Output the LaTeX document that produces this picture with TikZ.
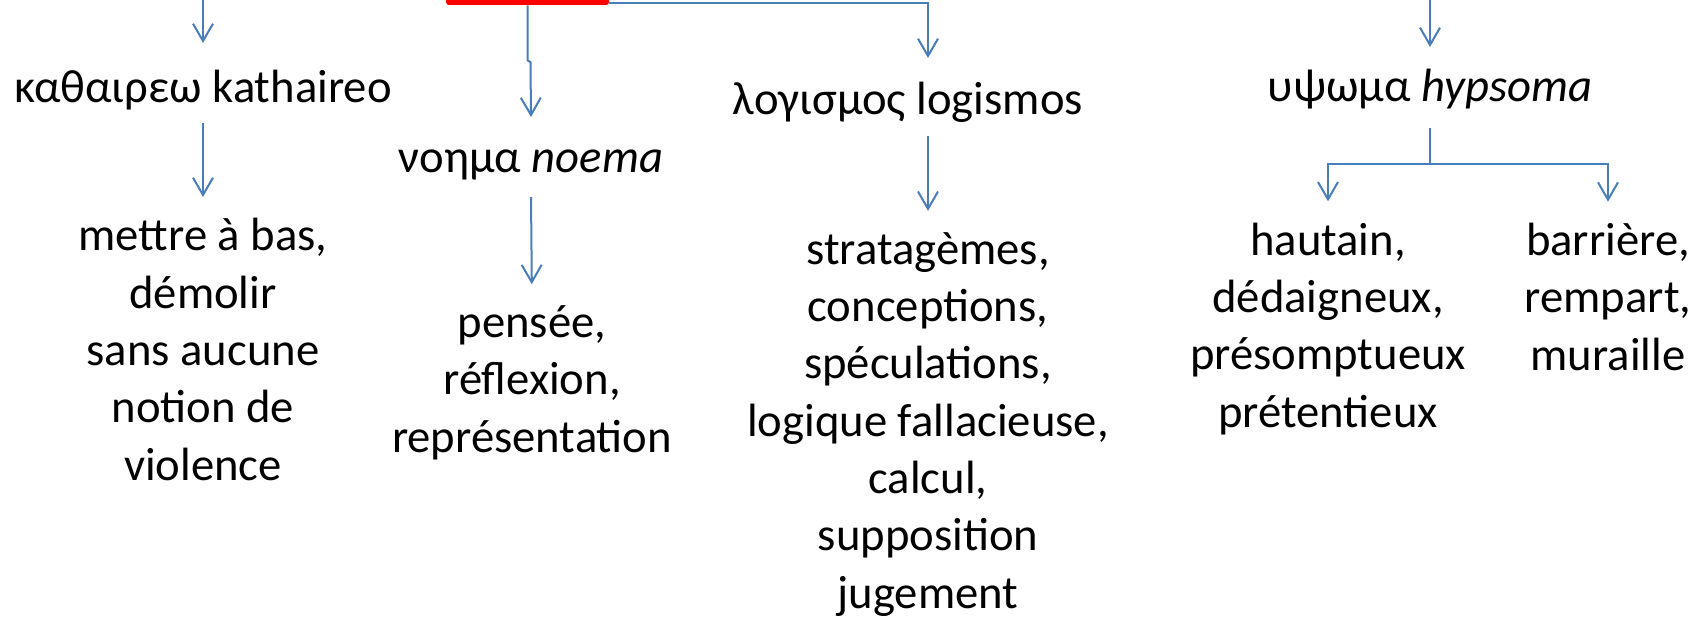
\documentclass[tikz,border=0pt]{standalone}
\usepackage{fontspec}
\setmainfont{Carlito}
\usepackage{tikz}
\usetikzlibrary{arrows.meta,calc}
\definecolor{arrowblue}{RGB}{74,126,187}

\begin{document}
\begin{tikzpicture}[x=0.75pt,y=0.75pt,yscale=-1,xscale=1,
    conn/.style={color=arrowblue, line width=1.5pt, -{Straight Barb[length=13pt,width=15pt]}},
    plain/.style={color=arrowblue, line width=1.5pt},
    word/.style={anchor=base, inner sep=0.75pt, align=center, font=\fontsize{35}{43}\selectfont}]
        %set diagram left start at 0, and has height of 620
        \useasboundingbox (0,0) rectangle (1702,620);

        %Shape: Rectangle [red box, cut at the top]
        \draw (527.5,-9) node [fill=red, rounded corners=2pt, minimum width=122pt, minimum height=21pt, inner sep=0pt] (root) {};
        \coordinate (kathtop) at (203,-20);
        \coordinate (hypstop) at (1430,-20);

        % Text Node (anchor base = last line)
        \draw (203,103) node [word] (kath) {καθαιρεω kathaireo};
        % Text Node
        \draw (203,480) node [word] (mettre) {mettre à bas,\\démolir\\sans aucune\\notion de\\violence};
        % Text Node
        \draw (531,173) node [word] (noema) {νοημα \textit{noema}};
        % Text Node
        \draw (532,452) node [word] (pensee) {pensée,\\réflexion,\\représentation};
        % Text Node
        \draw (908,115) node [word] (logism) {λογισμος logismos};
        % Text Node
        \draw (928,608) node [word] (strat) {stratagèmes,\\conceptions,\\spéculations,\\logique fallacieuse,\\calcul,\\supposition\\jugement};
        % Text Node
        \draw (1430,102) node [word] (hyps) {υψωμα \textit{hypsoma}};
        % Text Node
        \draw (1328,427) node [word] (haut) {hautain,\\dédaigneux,\\présomptueux\\prétentieux};
        % Text Node
        \draw (1608,370) node [word] (barr) {barrière,\\rempart,\\muraille};

        %Straight Lines
        \draw [conn] (kathtop) -- ($(kath.base)+(0,-60)$);
        \draw [conn, shorten >=15pt] ($(kath.base)+(0,20)$) -- (mettre.north);
        \draw [conn] (root.south) -- ++(0,55) -- ++(3,2) -- ($(noema.base)+(0,-56)$);
        \draw [conn, shorten >=15pt] ($(noema.base)+(0,24)$) -- (pensee.north);
        \draw [conn] ($(root.south east)+(0,-2)$) -| ($(logism.base)+(20,-57)$);
        \draw [conn, shorten >=15pt] (strat.north |- logism.base) ++(0,21) -- (strat.north);
        \draw [conn] (hypstop) -- ($(hyps.base)+(0,-55)$);
        \draw [plain] ($(hyps.base)+(0,26)$) -- ($(hyps.base)+(0,62)$) coordinate (fork);
        \draw [conn, shorten >=15pt] (fork) -| (haut.north);
        \draw [conn, shorten >=15pt] (fork) -| (barr.north);

\end{tikzpicture}
\end{document}
